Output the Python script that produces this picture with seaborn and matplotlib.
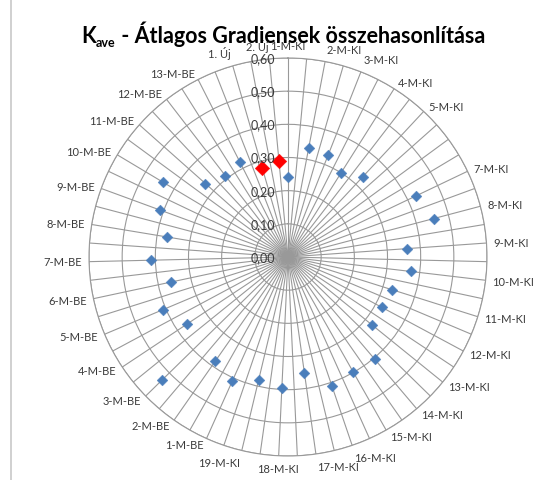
import numpy as np
import pandas as pd
import matplotlib
matplotlib.use("Agg")
import matplotlib.pyplot as plt
from matplotlib.lines import Line2D
import seaborn as sns

sns.set_theme(style="white")
plt.rcParams["font.family"] = ["Lato", "DejaVu Sans"]

# Categories, clockwise from the top (every other spoke carries a category)
categories = [
    "1-M-KI", "2-M-KI", "3-M-KI", "4-M-KI", "5-M-KI", "", "7-M-KI",
    "8-M-KI", "9-M-KI", "10-M-KI", "11-M-KI", "12-M-KI", "13-M-KI",
    "14-M-KI", "15-M-KI", "16-M-KI", "17-M-KI", "18-M-KI", "19-M-KI",
    "1-M-BE", "2-M-BE", "3-M-BE", "4-M-BE", "5-M-BE", "6-M-BE", "7-M-BE",
    "8-M-BE", "9-M-BE", "10-M-BE", "11-M-BE", "12-M-BE", "13-M-BE",
    "1. Új", "2. Új",
]

# Average gradient of the measured sections (None = no value)
measured = [
    0.24, 0.335, 0.33, 0.30, 0.33, None, 0.427,
    0.455, 0.36, 0.373, 0.33, 0.321, 0.327,
    0.404, 0.398, 0.41, 0.352, 0.395, 0.38,
    0.411, 0.383, 0.53, 0.364, 0.41, 0.361, 0.413,
    0.37, 0.41, 0.44, 0.333, 0.31, 0.322,
    None, None,
]

# Average gradient of the new sections
new = [None] * 32 + [0.278, 0.29]

radial_ticks = [0.0, 0.1, 0.2, 0.3, 0.4, 0.5, 0.6]
radial_labels = ["0,00", "0,10", "0,20", "0,30", "0,40", "0,50", "0,60"]

n_spokes = 67
spoke_angles = np.arange(n_spokes) * 2 * np.pi / n_spokes
cat_angles = spoke_angles[::2][: len(categories)]

rows = []
for ang, m, u in zip(cat_angles, measured, new):
    if m is not None:
        rows.append({"theta": ang, "value": m, "series": "M"})
    if u is not None:
        rows.append({"theta": ang, "value": u, "series": "Új"})
df = pd.DataFrame(rows)

W, H = 543, 481
fig = plt.figure(figsize=(W / 100, H / 100), dpi=100)
fig.patch.set_facecolor("white")

cx, cy, R = 288, 258, 199
ax = fig.add_axes([(cx - R) / W, (H - cy - R) / H, 2 * R / W, 2 * R / H],
                  projection="polar")
ax.set_theta_zero_location("N")
ax.set_theta_direction(-1)
ax.set_facecolor("white")

grid_color = "#999999"
ax.set_xticks(spoke_angles)
ax.set_xticklabels([])
ax.set_yticks(radial_ticks[1:])
ax.set_yticklabels([])
ax.set_ylim(0, 0.6)
ax.grid(True, color=grid_color, linewidth=0.8)
ax.spines["polar"].set_color(grid_color)
ax.spines["polar"].set_linewidth(0.8)
ax.tick_params(length=0, pad=0)

palette = {"M": "#4a7ebb", "Új": "#ff0000"}
sizes = {"M": 30, "Új": 55}
for name, sub in df.groupby("series"):
    sns.scatterplot(data=sub, x="theta", y="value", color=palette[name],
                    marker="D", s=sizes[name], linewidth=0.3,
                    edgecolor=palette[name], ax=ax, legend=False,
                    zorder=5, clip_on=False)
ax.set_xlabel("")
ax.set_ylabel("")
ax.set_ylim(0, 0.6)

text_color = "#3a3a3a"
# radial value labels beside the vertical axis
for r, lab in zip(radial_ticks, radial_labels):
    ax.annotate(lab, xy=(0, r), xytext=(-9, 0), textcoords="offset points",
                ha="right", va="center", fontsize=9, color=text_color,
                zorder=6)

# category labels around the outer circle
gap = 5
for ang, lab in zip(cat_angles, categories):
    if not lab:
        continue
    s, c = np.sin(ang), np.cos(ang)
    ha = "left" if s > 0.05 else ("right" if s < -0.05 else "center")
    if c > 0.93:
        va = "bottom"
    elif c < -0.93:
        va = "top"
    else:
        va = "center"
    ax.annotate(lab, xy=(ang, 0.6), xytext=(gap * s, gap * c),
                textcoords="offset points", ha=ha, va=va, fontsize=8,
                color=text_color, annotation_clip=False)

# title: K with subscript "ave", then the rest
ty = 1 - 43 / H
fig.canvas.draw()
renderer = fig.canvas.get_renderer()
parts = [("K", 15.5, 0), ("ave", 9, -4), (" - Átlagos Gradiensek összehasonlítása", 15.5, 0)]
objs = []
for txt, fs, dy in parts:
    t = fig.text(0, ty + dy / H, txt, fontsize=fs, fontweight="bold",
                 color="black", ha="left", va="baseline", zorder=10)
    objs.append(t)
widths = [o.get_window_extent(renderer).width for o in objs]
total = sum(widths)
x0 = 283 - total / 2
for o, w in zip(objs, widths):
    o.set_x(x0 / W)
    x0 += w

# frame line on the left
fig.add_artist(Line2D([11 / W, 11 / W], [0, 1], color="#c8c8c8", linewidth=1.2))

fig.savefig("out.png", dpi=100, facecolor="white")
